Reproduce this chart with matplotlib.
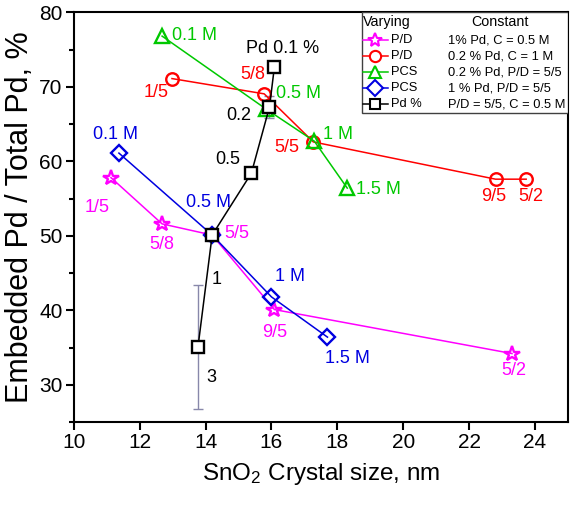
import numpy as np
import matplotlib
matplotlib.use("Agg")
import matplotlib.pyplot as plt
from matplotlib.lines import Line2D
from matplotlib.patches import Rectangle

plt.rcParams['font.family'] = ['Liberation Sans', 'DejaVu Sans']
plt.rcParams['mathtext.fontset'] = 'custom'
plt.rcParams['mathtext.rm'] = 'Liberation Sans'
plt.rcParams['mathtext.it'] = 'Liberation Sans:italic'

# Data: crystal size (nm) vs embedded Pd fraction (%)
pd_ratio_1pd_x = [11.13, 12.68, 14.2, 16.09, 23.3]
pd_ratio_1pd_y = [57.8, 51.6, 50.1, 40.1, 34.2]
pd_ratio_1pd_lbl = ['1/5', '5/8', '5/5', '9/5', '5/2']

pd_ratio_02pd_x = [12.98, 15.78, 17.27, 22.8, 23.73]
pd_ratio_02pd_y = [71.1, 69.05, 62.6, 57.6, 57.6]
pd_ratio_02pd_lbl = ['1/5', '5/8', '5/5', '9/5', '5/2']

pcs_02pd_x = [12.68, 15.84, 17.3, 18.3]
pcs_02pd_y = [76.8, 67.0, 62.7, 56.4]
pcs_02pd_lbl = ['0.1 M', '0.5 M', '1 M', '1.5 M']

pcs_1pd_x = [11.37, 14.2, 16.0, 17.7]
pcs_1pd_y = [61.1, 50.1, 41.8, 36.4]
pcs_1pd_lbl = ['0.1 M', '0.5 M', '1 M', '1.5 M']

pd_load_x = [13.77, 14.2, 15.39, 15.94, 16.09]
pd_load_y = [35.1, 50.1, 58.4, 67.3, 72.7]
pd_load_err = [8.3, 0.8, 0.0, 1.5, 0.0]
pd_load_lbl = ['3', '1', '0.5', '0.2', 'Pd 0.1 %']

varying = ['P/D', 'P/D', 'PCS', 'PCS', 'Pd %']
constant = ['1% Pd, C = 0.5 M', '0.2 % Pd, C = 1 M', '0.2 % Pd, P/D = 5/5',
            '1 % Pd, P/D = 5/5', 'P/D = 5/5, C = 0.5 M']

magenta = '#FF00FF'
red = '#FF0000'
green = '#00C800'
blue = '#0000E0'
black = '#000000'

fig = plt.figure(figsize=(5.72, 5.11), dpi=100)
ax = fig.add_axes([0.129, 0.174, 0.864, 0.802])

styles = [
    (pd_ratio_1pd_x, pd_ratio_1pd_y, magenta, '*', 11.5),
    (pd_ratio_02pd_x, pd_ratio_02pd_y, red, 'o', 9),
    (pcs_02pd_x, pcs_02pd_y, green, '^', 10),
    (pcs_1pd_x, pcs_1pd_y, blue, 'D', 8.5),
    (pd_load_x, pd_load_y, black, 's', 8.5),
]

ax.errorbar(pd_load_x, pd_load_y, yerr=pd_load_err, fmt='none',
            ecolor='#8888AA', elinewidth=1, capsize=3.5, capthick=1, zorder=1)

for i, (x, y, c, m, ms) in enumerate(styles):
    ax.plot(x, y, color=c, lw=1.1, marker=m, ms=ms, mfc='white' if m == 's' else 'none',
            mec=c, mew=1.7, zorder=2 + i)

# point labels
fs = 13
mag_pos = [(10.7, 53.8), (12.68, 48.8), (14.95, 50.3), (16.09, 37.0), (23.36, 31.9)]
red_pos = [(12.5, 69.2), (15.42, 71.6), (16.48, 61.8), (22.75, 55.3), (23.88, 55.3)]
grn_pos = [(12.98, 76.9), (16.15, 69.05), (17.55, 63.6), (18.58, 56.2)]
blu_pos = [(11.28, 63.6), (14.1, 54.5), (16.55, 44.5), (18.3, 33.5)]
blk_pos = [(14.17, 31.0), (14.35, 44.2), (14.66, 60.3), (15.0, 66.1), (16.33, 75.1)]

for (px, py), t in zip(mag_pos, pd_ratio_1pd_lbl):
    ax.text(px, py, t, color=magenta, fontsize=fs, ha='center', va='center')
for (px, py), t in zip(red_pos, pd_ratio_02pd_lbl):
    ax.text(px, py, t, color=red, fontsize=fs, ha='center', va='center')
for (px, py), t in zip(grn_pos, pcs_02pd_lbl):
    ax.text(px, py, t, color=green, fontsize=fs, ha='left', va='center')
for (px, py), t in zip(blu_pos, pcs_1pd_lbl):
    ax.text(px, py, t, color=blue, fontsize=fs, ha='center', va='center')
for (px, py), t in zip(blk_pos, pd_load_lbl):
    ax.text(px, py, t, color=black, fontsize=fs, ha='center', va='center')

ax.set_xlim(10, 25)
ax.set_ylim(25, 80)
ax.set_xticks(np.arange(10, 25, 2))
ax.set_yticks(np.arange(30, 81, 10))
ax.set_yticks(np.arange(25, 80, 5), minor=True)
ax.tick_params(which='major', direction='out', length=6, width=1.5, labelsize=15, pad=2)
ax.tick_params(which='minor', direction='out', length=3.5, width=1.5)
for s in ax.spines.values():
    s.set_linewidth(1.5)

ax.set_xlabel('SnO$_2$ Crystal size, nm', fontsize=17.5, labelpad=6)
ax.set_ylabel('Embedded Pd / Total Pd, %', fontsize=22, labelpad=3)

# hand-built legend with "Varying" / "Constant" columns
ax.add_patch(Rectangle((0.583, 0.754), 0.417, 0.246, transform=ax.transAxes,
                       fill=True, fc='white', ec='0.25', lw=1, zorder=20))
lfs = 9.3
ax.text(0.585, 0.976, 'Varying', transform=ax.transAxes, fontsize=lfs + 1,
        ha='left', va='center', zorder=21)
ax.text(0.862, 0.976, 'Constant', transform=ax.transAxes, fontsize=lfs + 1,
        ha='center', va='center', zorder=21)
row_y = [0.932, 0.893, 0.854, 0.815, 0.776]
for (x, y, c, m, ms), yy, v, k in zip(styles, row_y, varying, constant):
    ax.add_line(Line2D([0.586, 0.636], [yy, yy], transform=ax.transAxes, color=c, lw=1.1,
                       zorder=21))
    ax.add_line(Line2D([0.610], [yy], transform=ax.transAxes, marker=m, ms=ms * 0.9,
                       mfc='white', mec=c, mew=1.5, zorder=22))
    ax.text(0.642, yy, v, transform=ax.transAxes, fontsize=lfs, ha='left', va='center',
            zorder=21)
    ax.text(0.757, yy, k, transform=ax.transAxes, fontsize=lfs, ha='left', va='center',
            zorder=21)

fig.savefig('out.png', dpi=100)
